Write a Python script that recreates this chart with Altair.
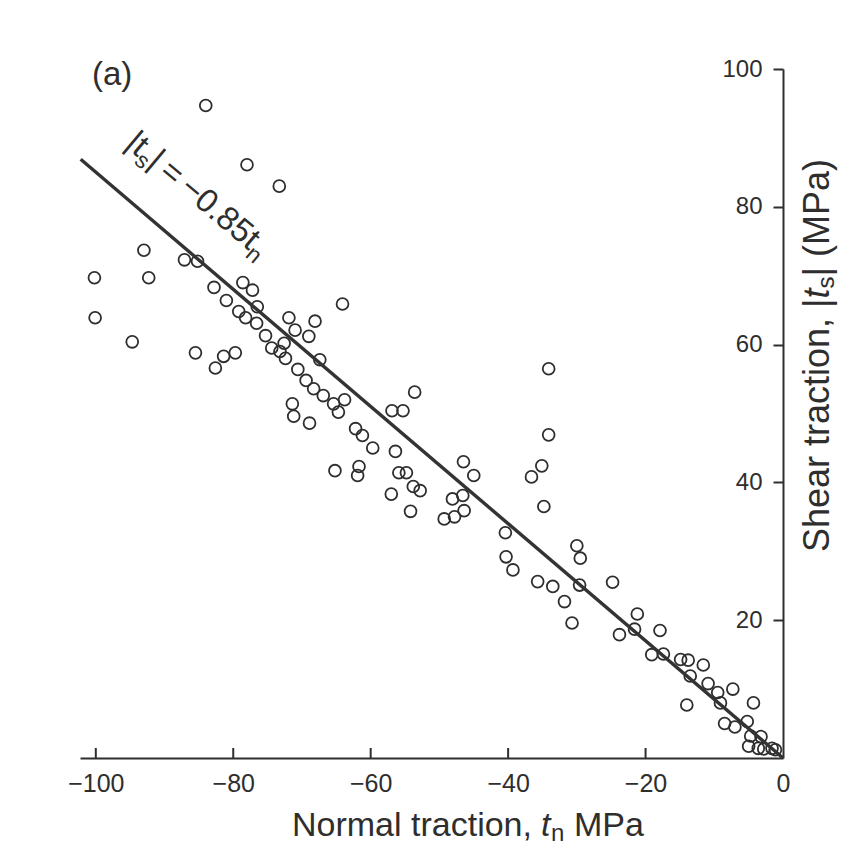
import altair as alt
import pandas as pd

# ---- data ----
tn = [-84.0, -78.0, -73.3, -93.0, -87.1, -85.2, -100.2, -92.3, -78.6, -82.8,
      -77.2, -81.0, -76.5, -64.1, -100.1, -79.2, -78.2, -76.6, -71.9, -68.1,
      -71.0, -69.0, -94.7, -85.5, -81.4, -79.7, -82.6, -75.3, -74.4, -72.6,
      -73.2, -72.4, -67.4, -70.6, -69.4, -68.3, -66.9, -65.4, -63.8, -64.7,
      -71.4, -71.2, -68.9, -62.2, -61.2, -59.7, -65.2, -61.7, -61.9, -53.6,
      -56.9, -55.3, -56.4, -55.9, -54.8, -53.8, -52.8, -57.0, -54.2, -46.5,
      -45.0, -48.1, -46.6, -46.4, -49.3, -47.8, -40.4, -34.1, -34.1, -35.1,
      -36.6, -34.8, -30.0, -40.3, -39.3, -35.7, -33.5, -31.8, -30.7, -29.5,
      -29.6, -24.8, -21.2, -21.6, -23.8, -17.9, -19.1, -17.4, -14.9, -13.8,
      -13.5, -11.6, -10.9, -9.5, -9.1, -7.3, -14.0, -4.3, -8.5, -7.0,
      -5.2, -4.7, -5.0, -3.2, -3.6, -2.8, -1.6, -1.1]
ts = [94.7, 86.1, 83.0, 73.7, 72.3, 72.1, 69.7, 69.7, 69.0, 68.3,
      67.9, 66.4, 65.5, 65.9, 63.9, 64.8, 63.9, 63.1, 63.9, 63.4,
      62.1, 61.2, 60.4, 58.8, 58.3, 58.8, 56.6, 61.3, 59.5, 60.2,
      59.0, 58.0, 57.8, 56.4, 54.8, 53.6, 52.6, 51.4, 52.0, 50.2,
      51.4, 49.6, 48.6, 47.8, 46.8, 45.0, 41.7, 42.3, 41.0, 53.1,
      50.4, 50.4, 44.5, 41.4, 41.4, 39.4, 38.8, 38.3, 35.8, 43.0,
      41.0, 37.6, 38.1, 35.9, 34.7, 35.0, 32.7, 56.5, 46.9, 42.4,
      40.8, 36.5, 30.8, 29.2, 27.3, 25.6, 24.9, 22.7, 19.6, 29.0,
      25.1, 25.5, 20.9, 18.7, 17.9, 18.5, 15.0, 15.1, 14.3, 14.2,
      11.9, 13.5, 10.8, 9.5, 8.0, 10.0, 7.7, 8.0, 5.0, 4.5,
      5.3, 3.2, 1.7, 3.1, 1.4, 1.3, 1.4, 1.2]

# fit line |ts| = -0.85 tn, end points
line_tn = [-102.2, 0.0]
line_ts = [86.9, 0.0]

x_tick_values = [-100, -80, -60, -40, -20, 0]
x_inner_ticks = [-100, -80, -60, -40, -20]
y_tick_values = [20, 40, 60, 80, 100]

# ---- layout / style ----
FONT = "Liberation Sans"
INK = "#2e2e2e"
BG = "white"
W, H = 703, 689
PAD_L, PAD_T, PAD_R, PAD_B = 72, 61, 57, 88
X0, Y0 = 8 + PAD_L, 8 + PAD_T          # page position of the plot origin

pts_df = pd.DataFrame({"tn": tn, "ts": ts})
line_df = pd.DataFrame({"tn": line_tn, "ts": line_ts})
xt_df = pd.DataFrame({"tn": x_inner_ticks})

x_scale = alt.Scale(domain=[-102.3, 0], nice=False, zero=False)
y_scale = alt.Scale(domain=[0, 100], nice=False, zero=False)

x_axis = alt.Axis(values=x_tick_values, ticks=False, tickSize=0, labelPadding=13,
                  labelFontSize=25, labelFont=FONT, labelColor=INK,
                  domainColor=INK, domainWidth=2, grid=False, title=None,
                  labelFlush=False, labelOverlap=False, labelBound=False)
y_axis = alt.Axis(orient="left", offset=-W, values=y_tick_values, tickSize=10,
                  tickWidth=2, tickColor=INK, labelPadding=11, labelFontSize=24,
                  labelFont=FONT, labelColor=INK, domainColor=INK, domainWidth=2,
                  grid=False, title=None, labelFlush=False, labelOverlap=False,
                  labelBound=False)

points = alt.Chart(pts_df).mark_point(
    shape="circle", filled=False, size=140, strokeWidth=1.8, color=INK, opacity=1
).encode(
    x=alt.X("tn:Q", scale=x_scale, axis=x_axis),
    y=alt.Y("ts:Q", scale=y_scale, axis=y_axis),
)

fit = alt.Chart(line_df).mark_line(color="#333333", strokeWidth=3.4).encode(
    x=alt.X("tn:Q", scale=x_scale),
    y=alt.Y("ts:Q", scale=y_scale),
)

xticks = alt.Chart(xt_df).mark_rule(color=INK, strokeWidth=2).encode(
    x=alt.X("tn:Q", scale=x_scale),
    y=alt.value(H),
    y2=alt.value(H - 10),
)


def label(text, px, py, size, angle=0, italic=False, dx=0, dy=0):
    return alt.Chart(pd.DataFrame({"s": [text]})).mark_text(
        align="left", baseline="alphabetic", fontSize=size, font=FONT,
        fontStyle="italic" if italic else "normal", angle=angle,
        dx=dx, dy=dy, color=INK,
    ).encode(x=alt.value(px - X0), y=alt.value(py - Y0), text="s:N")


# x title pieces laid end to end (font 34, Arial metrics)
XT_Y = 836
# y title pieces laid end to end upwards (font 36)
YT_X = 829

texts = [
    # panel tag
    label("(a)", 92, 85, 33),
    # equation along the fit line (rotated 40 deg)
    label("|t", 124, 146, 33, angle=40),
    label("s", 124, 146, 23, angle=40, dx=17.8, dy=7),
    label("|\u2009=\u2009\u22120.85t", 124, 146, 33, angle=40, dx=29.3),
    label("n", 124, 146, 23, angle=40, dx=163.0, dy=7),
    # x axis title
    label("Normal traction,", 292, XT_Y, 34),
    label("t", 541, XT_Y, 34, italic=True),
    label("n", 551, XT_Y, 24, dy=5),
    label("MPa", 574, XT_Y, 34),
    # y axis title (reads upwards)
    label("Shear traction,", YT_X, 552, 36, angle=270),
    label("|", YT_X, 308, 36, angle=270),
    label("t", YT_X, 298.5, 36, angle=270, italic=True),
    label("s", YT_X, 288.5, 24, angle=270, dy=5),
    label("|", YT_X, 276.5, 36, angle=270),
    label("(MPa)", YT_X, 257, 36, angle=270),
]

chart = alt.layer(points, fit, xticks, *texts).properties(
    width=W, height=H,
    autosize=alt.AutoSizeParams(type="none"),
    padding={"left": PAD_L, "top": PAD_T, "right": PAD_R, "bottom": PAD_B},
    background=BG,
).configure_view(stroke=None)

chart.save("out.html", embed_options={"renderer": "svg", "actions": False})
